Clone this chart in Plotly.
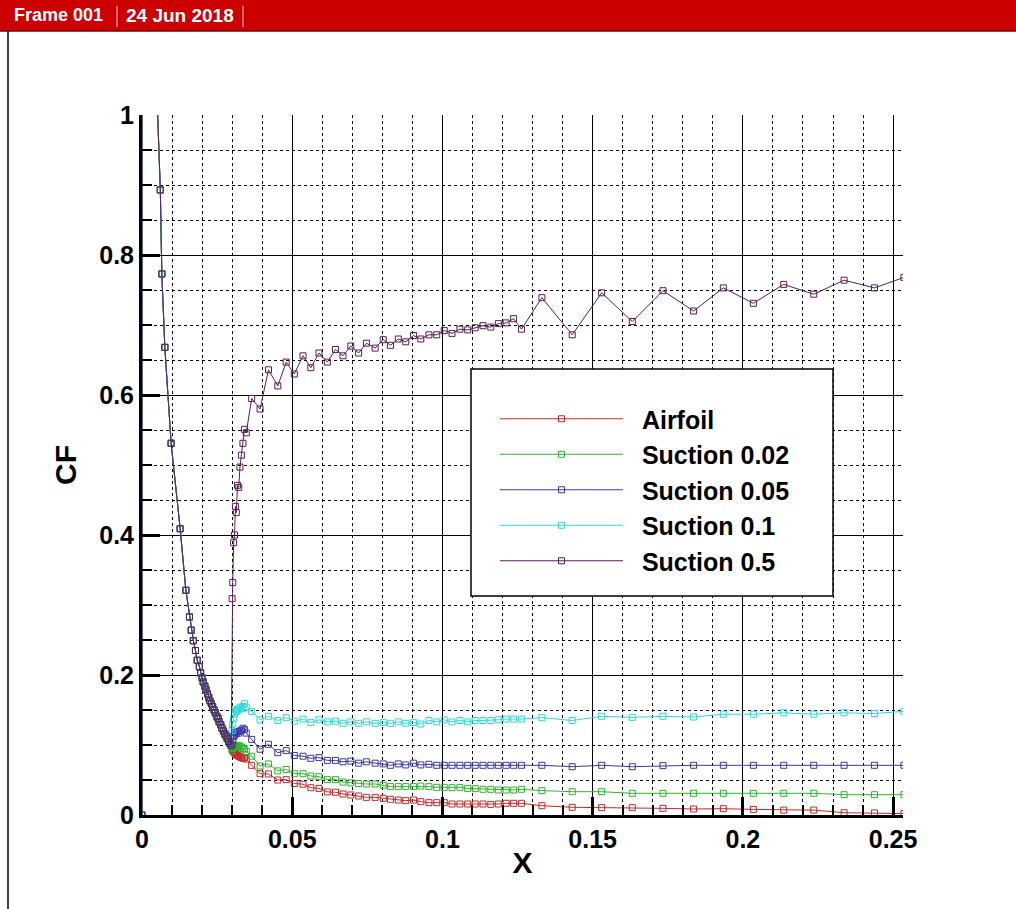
import plotly.graph_objects as go

# ---------------- data ----------------
series_names = ["Airfoil", "Suction 0.02", "Suction 0.05", "Suction 0.1", "Suction 0.5"]

# shared leading-edge part (identical for all cases, x < 0.03)
lead_x = [0.0, 0.0001, 0.0043, 0.0061, 0.0066, 0.0076, 0.0097, 0.0127, 0.0146, 0.0158,
          0.0164, 0.0171, 0.0178, 0.0184, 0.0191, 0.0195, 0.0200, 0.0204, 0.0209, 0.0213,
          0.0218, 0.0222, 0.0226, 0.0231, 0.0235, 0.0240, 0.0244, 0.0249, 0.0253, 0.0257,
          0.0262, 0.0266, 0.0271, 0.0275, 0.0280, 0.0284, 0.0288, 0.0293, 0.0297]
lead_cf = [0.0, 30.0, 1.11, 0.893, 0.773, 0.668, 0.531, 0.409, 0.321, 0.283,
           0.264, 0.249, 0.235, 0.221, 0.212, 0.203, 0.196, 0.190, 0.184, 0.179,
           0.173, 0.168, 0.163, 0.159, 0.155, 0.150, 0.146, 0.141, 0.138, 0.133,
           0.129, 0.124, 0.120, 0.116, 0.113, 0.109, 0.105, 0.102, 0.099]

# x positions downstream of the suction slot
post_x = [0.0300, 0.0302, 0.0305, 0.0308, 0.0311, 0.0314, 0.0318, 0.0322, 0.0326, 0.0331,
          0.0336, 0.0341, 0.0347,
          0.0365, 0.0393, 0.0421, 0.0452, 0.0480, 0.0507, 0.0536, 0.0562, 0.0589, 0.0617,
          0.0644, 0.0669, 0.0695, 0.0721, 0.0747, 0.0776, 0.0803, 0.0827, 0.0853, 0.0878,
          0.0904, 0.0928, 0.0955, 0.0981, 0.1006, 0.1032, 0.1058, 0.1084, 0.1109, 0.1135,
          0.1161, 0.1186, 0.1212, 0.1237, 0.1263,
          0.1331, 0.1432, 0.1530, 0.1632, 0.1734, 0.1836, 0.1935, 0.2035, 0.2136, 0.2236,
          0.2337, 0.2438, 0.2536]

cf_airfoil = [0.094, 0.092, 0.090, 0.089, 0.088, 0.086, 0.085, 0.084, 0.083, 0.082,
              0.081, 0.082, 0.080,
              0.071, 0.059, 0.0586, 0.050, 0.0505, 0.045, 0.044, 0.039, 0.038, 0.033,
              0.0325, 0.030, 0.0286, 0.0271, 0.0252, 0.0252, 0.0238, 0.0224, 0.0214, 0.0205,
              0.0214, 0.019, 0.0176, 0.0176, 0.0176, 0.0157, 0.0157, 0.0157, 0.0157, 0.0157,
              0.0152, 0.0157, 0.0167, 0.0167, 0.0167,
              0.0133, 0.011, 0.0105, 0.0105, 0.0095, 0.0086, 0.009, 0.008, 0.007, 0.007,
              0.0033, 0.003, 0.002]

cf_s002 = [0.092, 0.095, 0.097, 0.100, 0.098, 0.099, 0.097, 0.099, 0.098, 0.097,
           0.095, 0.094, 0.091,
           0.084, 0.070, 0.073, 0.063, 0.065, 0.059, 0.059, 0.0557, 0.0547, 0.0505,
           0.0505, 0.047, 0.046, 0.045, 0.0443, 0.0443, 0.0424, 0.0405, 0.0405, 0.0405,
           0.0405, 0.0414, 0.0405, 0.0395, 0.0395, 0.039, 0.0395, 0.038, 0.0376, 0.0367,
           0.0367, 0.0357, 0.0357, 0.0357, 0.0367,
           0.0348, 0.0333, 0.0333, 0.031, 0.031, 0.031, 0.031, 0.031, 0.031, 0.031,
           0.029, 0.029, 0.029]

cf_s005 = [0.100, 0.106, 0.112, 0.114, 0.118, 0.116, 0.119, 0.117, 0.120, 0.121,
           0.124, 0.122, 0.117,
           0.108, 0.094, 0.101, 0.089, 0.092, 0.085, 0.084, 0.081, 0.082, 0.078,
           0.078, 0.076, 0.077, 0.074, 0.076, 0.074, 0.073, 0.071, 0.073, 0.0715,
           0.074, 0.0715, 0.0725, 0.071, 0.071, 0.071, 0.071, 0.071, 0.071, 0.071,
           0.071, 0.071, 0.071, 0.071, 0.071,
           0.071, 0.069, 0.071, 0.069, 0.0705, 0.071, 0.071, 0.071, 0.071, 0.071,
           0.071, 0.071, 0.071]

cf_s01 = [0.121, 0.130, 0.138, 0.144, 0.150, 0.148, 0.151, 0.150, 0.154, 0.152,
          0.155, 0.159, 0.154,
          0.148, 0.136, 0.141, 0.135, 0.139, 0.134, 0.137, 0.132, 0.136, 0.133,
          0.134, 0.131, 0.133, 0.131, 0.133, 0.131, 0.132, 0.131, 0.133, 0.131,
          0.132, 0.130, 0.135, 0.133, 0.136, 0.133, 0.135, 0.133, 0.135, 0.135,
          0.135, 0.136, 0.137, 0.137, 0.137,
          0.139, 0.135, 0.141, 0.1395, 0.141, 0.140, 0.144, 0.144, 0.146, 0.144,
          0.146, 0.145, 0.148]

cf_s05 = [0.309, 0.332, 0.389, 0.400, 0.441, 0.432, 0.471, 0.468, 0.497, 0.514,
          0.531, 0.551, 0.546,
          0.595, 0.580, 0.636, 0.613, 0.647, 0.630, 0.656, 0.639, 0.660, 0.647,
          0.665, 0.656, 0.670, 0.660, 0.674, 0.667, 0.679, 0.671, 0.680, 0.676,
          0.685, 0.680, 0.686, 0.686, 0.692, 0.688, 0.694, 0.693, 0.696, 0.699,
          0.697, 0.702, 0.703, 0.709, 0.694,
          0.739, 0.686, 0.746, 0.705, 0.749, 0.720, 0.753, 0.731, 0.758, 0.744,
          0.764, 0.753, 0.768]

series_cf = [cf_airfoil, cf_s002, cf_s005, cf_s01, cf_s05]
series_colors = ["#c42a2a", "#2fb52f", "#3a3aa8", "#30d8d8", "#5a1f58"]

x_tickvals = [0, 0.05, 0.1, 0.15, 0.2, 0.25]
x_ticktext = ["0", "0.05", "0.1", "0.15", "0.2", "0.25"]
y_tickvals = [0, 0.2, 0.4, 0.6, 0.8, 1.0]
y_ticktext = ["0", "0.2", "0.4", "0.6", "0.8", "1"]

# ---------------- layout geometry (pixels) ----------------
W, H = 1016, 909
L, R, T, B = 142, 903, 115, 815


def px(xp):
    return (xp - L) / (R - L)


def py(yp):
    return (B - yp) / (B - T)


FONT = "Liberation Sans, Arial, sans-serif"
NARROW = "Liberation Sans Narrow, Arial Narrow, Liberation Sans, Arial, sans-serif"
GAP = "\u00a0\u00a0"   # spacing between legend symbol and label

fig = go.Figure()
for name, cf, col in zip(series_names, series_cf, series_colors):
    fig.add_trace(go.Scatter(
        x=lead_x + post_x, y=lead_cf + cf, name=GAP + name, mode="lines+markers",
        line=dict(color=col, width=1),
        marker=dict(symbol="square-open", size=6, color=col, line=dict(width=1, color=col)),
    ))

axis_common = dict(
    showline=True, linecolor="black", linewidth=3, mirror=False,
    showgrid=True, gridcolor="black", gridwidth=1,
    ticks="inside", ticklen=18, tickwidth=3, tickcolor="black",
    zeroline=False,
    tickfont=dict(family=FONT, size=25, color="black", weight="bold"),
)

fig.update_xaxes(
    range=[0, 0.2533], tickvals=x_tickvals, ticktext=x_ticktext,
    minor=dict(dtick=0.01, tick0=0, showgrid=True, gridcolor="black", griddash="dot",
               gridwidth=1, ticks="inside", ticklen=10, tickwidth=2, tickcolor="black"),
    title=dict(text="X", font=dict(family=FONT, size=30, color="black", weight="bold"), standoff=0),
    **axis_common,
)
fig.update_yaxes(
    range=[0, 1], tickvals=y_tickvals, ticktext=y_ticktext,
    minor=dict(dtick=0.05, tick0=0, showgrid=True, gridcolor="black", griddash="dot",
               gridwidth=1, ticks="inside", ticklen=10, tickwidth=2, tickcolor="black"),
    title=dict(text="CF", font=dict(family=FONT, size=30, color="black", weight="bold"), standoff=14),
    **axis_common,
)

shapes = [
    # red frame header
    dict(type="rect", xref="paper", yref="paper", x0=px(0), x1=px(W), y0=py(0), y1=py(31),
         fillcolor="#cc0000", line=dict(width=0), layer="above"),
    dict(type="line", xref="paper", yref="paper", x0=px(0), x1=px(W), y0=py(31), y1=py(31),
         line=dict(color="#7a0000", width=1.5), layer="above"),
    dict(type="line", xref="paper", yref="paper", x0=px(117), x1=px(117), y0=py(6), y1=py(27),
         line=dict(color="#f4c8c8", width=1), layer="above"),
    dict(type="line", xref="paper", yref="paper", x0=px(243), x1=px(243), y0=py(6), y1=py(27),
         line=dict(color="#f4c8c8", width=1), layer="above"),
    # frame border (left)
    dict(type="line", xref="paper", yref="paper", x0=px(8), x1=px(8), y0=py(31), y1=py(H + 5),
         line=dict(color="black", width=1.5), layer="above"),
    # legend box
    dict(type="rect", xref="paper", yref="paper", x0=px(471), x1=px(833), y0=py(596), y1=py(369),
         fillcolor="white", line=dict(color="black", width=1.5), layer="above"),
]

annotations = [
    dict(text="Frame 001", x=px(12), y=py(15), xref="paper", yref="paper", xanchor="left",
         yanchor="middle", showarrow=False,
         font=dict(family=NARROW, size=18, color="white", weight="bold")),
    dict(text="24 Jun 2018", x=px(124), y=py(15), xref="paper", yref="paper", xanchor="left",
         yanchor="middle", showarrow=False,
         font=dict(family=NARROW, size=19, color="white", weight="bold")),
]

fig.update_layout(
    width=W, height=H,
    margin=dict(l=L, r=W - R, t=T, b=H - B, autoexpand=False),
    paper_bgcolor="white", plot_bgcolor="white",
    shapes=shapes, annotations=annotations,
    showlegend=True,
    legend=dict(
        x=px(495), y=py(396), xanchor="left", yanchor="top",
        bgcolor="rgba(0,0,0,0)", borderwidth=0,
        itemwidth=123, tracegroupgap=0,
        font=dict(family=FONT, size=25, color="black", weight="bold"),
    ),
)

fig.write_html("out.html")
